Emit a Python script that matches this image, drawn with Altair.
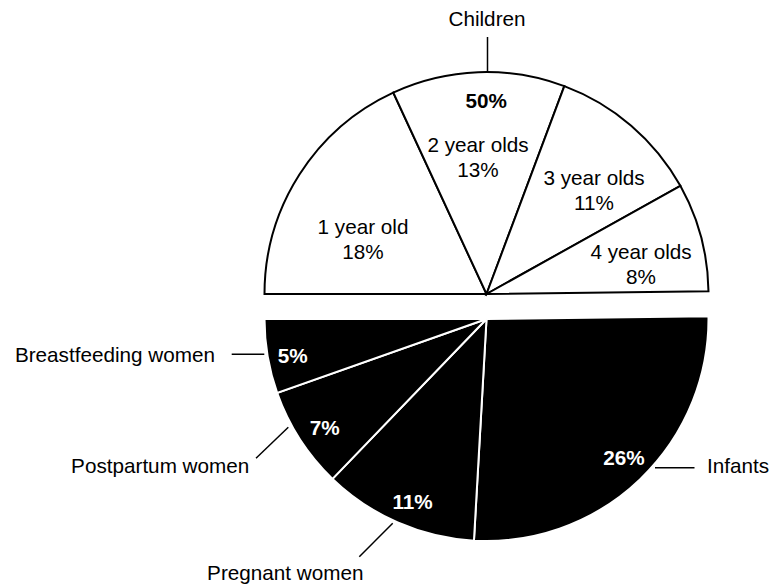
import math
import pandas as pd
import altair as alt

# ---------------- data ----------------
group_names = ["Children", "Women"]
children_names = ["1 year old", "2 year olds", "3 year olds", "4 year olds"]
children_values = [18.1, 12.6, 11.2, 7.9]
women_names = ["Infants", "Pregnant women", "Postpartum women", "Breastfeeding women"]
women_values = [26.1, 11.3, 7.4, 5.4]

# ---------------- layout (pixels, relative to the pie centre) ----------------
W, H = 762, 576
CX, CY = 478.5, 298.5
R = 222
EXPLODE = 12.5
FONT = "Liberation Sans"
FS = 20.7

inner_pos = {  # children slice labels (centre x, first baseline y)
    "1 year old": (-123.5, -72.5),
    "2 year olds": (-8.5, -155.0),
    "3 year olds": (107.5, -121.5),
    "4 year olds": (154.5, -47.2),
}
pct_pos = {  # women slice percentages
    "Infants": (137.5, 158.5),
    "Pregnant women": (-74.0, 202.5),
    "Postpartum women": (-161.8, 128.5),
    "Breastfeeding women": (-193.7, 56.2),
}
outer_pos = {  # label anchor, alignment, leader line (x1, y1, x2, y2)
    "Children": (0.5, -280.8, "center", (1.0, -269.5, 1.0, -235.5)),
    "Infants": (220.5, 166.2, "left", (168.5, 161.2, 208.0, 161.2)),
    "Pregnant women": (-201.2, 273.5, "center", (-127.2, 250.2, -93.8, 216.8)),
    "Postpartum women": (-237.2, 166.2, "right", (-230.5, 151.8, -198.2, 120.8)),
    "Breastfeeding women": (-271.5, 55.2, "right", (-254.8, 47.8, -222.2, 47.8)),
}
total_pos = (-0.2, -198.8)

# ---------------- tables ----------------
names = children_names + women_names
values = children_values + women_values
groups = [group_names[0]] * len(children_names) + [group_names[1]] * len(women_names)
total = sum(values)
starts, ends, acc = [], [], 0.0
for v in values:
    starts.append(acc)
    acc += v
    ends.append(acc)
slices = pd.DataFrame({
    "name": names, "value": values, "group": groups,
    "start": starts, "end": ends,
    "cx": [0.0] * len(names),
    "cy": [-EXPLODE if g == group_names[0] else EXPLODE for g in groups],
})

inner = pd.DataFrame({
    "label": [f"{n}\n{v:.0f}%" for n, v in zip(children_names, children_values)],
    "x": [inner_pos[n][0] for n in children_names],
    "y": [inner_pos[n][1] for n in children_names],
})
pcts = pd.DataFrame({
    "label": [f"{v:.0f}%" for v in women_values],
    "x": [pct_pos[n][0] for n in women_names],
    "y": [pct_pos[n][1] for n in women_names],
})
tot = pd.DataFrame({"label": [f"{sum(children_values):.0f}%"],
                    "x": [total_pos[0]], "y": [total_pos[1]]})
outer_names = [group_names[0]] + women_names
outer = pd.DataFrame({
    "label": outer_names,
    "x": [outer_pos[n][0] for n in outer_names],
    "y": [outer_pos[n][1] for n in outer_names],
    "align": [outer_pos[n][2] for n in outer_names],
})
leaders = pd.DataFrame({
    "x1": [outer_pos[n][3][0] for n in outer_names],
    "y1": [outer_pos[n][3][1] for n in outer_names],
    "x2": [outer_pos[n][3][2] for n in outer_names],
    "y2": [outer_pos[n][3][3] for n in outer_names],
})

# ---------------- scales ----------------
xs = alt.Scale(domain=[-CX, W - CX], nice=False, zero=False)
ys = alt.Scale(domain=[H - CY, -CY], nice=False, zero=False)
ts = alt.Scale(domain=[0, total], range=[-math.pi / 2, 3 * math.pi / 2], nice=False, zero=False)

arcs = alt.Chart(slices).mark_arc(radius=R, strokeWidth=2).encode(
    x=alt.X("cx:Q", scale=xs, axis=None),
    y=alt.Y("cy:Q", scale=ys, axis=None),
    theta=alt.Theta("start:Q", scale=ts),
    theta2=alt.Theta2("end:Q"),
    color=alt.Color("group:N", scale=alt.Scale(domain=group_names, range=["#ffffff", "#000000"]), legend=None),
    stroke=alt.Stroke("group:N", scale=alt.Scale(domain=group_names, range=["#000000", "#ffffff"]), legend=None),
)

rules = alt.Chart(leaders).mark_rule(color="black", strokeWidth=1.5).encode(
    x=alt.X("x1:Q", scale=xs, axis=None),
    y=alt.Y("y1:Q", scale=ys, axis=None),
    x2="x2:Q",
    y2="y2:Q",
)

def txt(df, **kw):
    return alt.Chart(df).mark_text(font=FONT, fontSize=FS, baseline="alphabetic", **kw).encode(
        x=alt.X("x:Q", scale=xs, axis=None),
        y=alt.Y("y:Q", scale=ys, axis=None),
        text="label:N",
    )

layers = [arcs, rules,
          txt(inner, align="center", color="black", lineBreak="\n", lineHeight=25),
          txt(tot, align="center", color="black", fontWeight="bold"),
          txt(pcts, align="center", color="white", fontWeight="bold")]
for a in ["left", "center", "right"]:
    layers.append(txt(outer[outer["align"] == a], align=a, color="black"))

chart = alt.layer(*layers).properties(
    width=W, height=H, padding=0, autosize="none", background="white"
).configure_view(stroke=None)

chart.save("out.html", embed_options={"renderer": "svg", "actions": False})
